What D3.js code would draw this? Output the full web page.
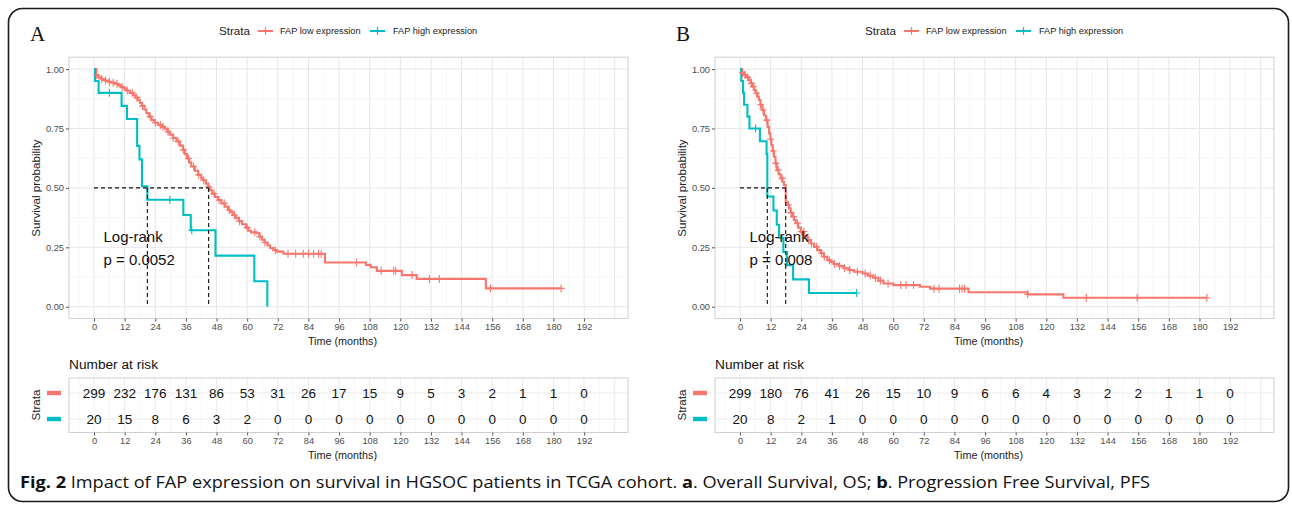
<!DOCTYPE html>
<html><head><meta charset="utf-8">
<script src="https://cdn.jsdelivr.net/npm/d3@7"></script>
<style>
body{margin:0;background:#fff;}
svg{display:block;font-family:"Liberation Sans",Arial,Helvetica,sans-serif;}
</style></head>
<body><svg id="c" width="1292" height="506"></svg>
<script>
// ---------------- DATA ----------------
const timeBreaks = [0,12,24,36,48,60,72,84,96,108,120,132,144,156,168,180,192];
const yBreaks = [0,0.25,0.5,0.75,1];
const yLabels = ["0.00","0.25","0.50","0.75","1.00"];
const strataLabels = ["FAP low expression","FAP high expression"];
const strataColors = ["#F8766D","#00BFC4"];
const panelLetters = ["A","B"];

// Panel A (OS): [time, survival after drop]
const osLowSteps = [[0.9,0.975],[1.7,0.965],[2.9,0.958],[4.0,0.952],[5.5,0.947],[6.8,0.943],[8.1,0.938],[9.5,0.932],[10.7,0.924],[11.8,0.917],[12.7,0.910],[14.0,0.900],[15.3,0.890],[16.3,0.880],[17.2,0.869],[18.0,0.857],[18.8,0.845],[19.7,0.830],[20.5,0.815],[21.5,0.800],[22.5,0.785],[23.8,0.774],[25.1,0.765],[26.5,0.757],[27.7,0.749],[28.8,0.737],[29.7,0.724],[31.0,0.710],[32.3,0.695],[33.6,0.678],[34.9,0.660],[35.6,0.642],[36.4,0.624],[37.3,0.607],[38.1,0.590],[39.5,0.572],[40.8,0.555],[42.0,0.540],[42.7,0.532],[43.8,0.518],[44.7,0.505],[45.5,0.490],[46.3,0.476],[47.4,0.462],[48.6,0.449],[49.9,0.435],[51.2,0.421],[52.5,0.407],[53.3,0.399],[54.3,0.386],[55.5,0.374],[56.8,0.360],[58.0,0.347],[59.5,0.333],[60.5,0.320],[61.5,0.313],[63.8,0.309],[64.8,0.295],[65.8,0.282],[66.8,0.270],[68.0,0.258],[69.0,0.247],[70.3,0.238],[71.6,0.232],[74.2,0.223],[90.5,0.186],[106.5,0.176],[108.4,0.166],[110.8,0.151],[120.6,0.133],[126.4,0.117],[153.5,0.077]];
const osLowEnd = 183;
const osLowCensor = [1,3,4.5,6,7.5,9,11,13,15,16.8,19,22,24,26,27,29,31,33,35,37,39,41,43,45,47,49,51,53,55,57,60,63,65,67,71,76,79,82,84,86,88,89,102.8,112.5,117.4,118.2,124.6,131.4,135.3,155.3,183];
const osHighSteps = [[0.4,0.95],[1.8,0.90],[10.8,0.845],[12.9,0.790],[16.9,0.677],[17.8,0.620],[18.8,0.507],[20.9,0.450],[35.0,0.386],[37.9,0.322],[47.6,0.215],[62.8,0.107],[67.9,0.0]];
const osHighEnd = 67.9;
const osHighCensor = [6.0,29.7,38.3];

// Panel B (PFS)
const pfsLowSteps = [[0.8,0.985],[1.6,0.975],[2.5,0.965],[3.5,0.954],[4.2,0.940],[4.8,0.926],[5.5,0.912],[6.1,0.898],[6.8,0.884],[7.4,0.870],[8.0,0.850],[8.7,0.828],[9.4,0.806],[10.1,0.785],[10.8,0.757],[11.4,0.729],[11.9,0.705],[12.3,0.680],[12.8,0.655],[13.3,0.631],[13.9,0.603],[14.4,0.575],[15.1,0.558],[15.9,0.540],[16.6,0.526],[17.2,0.512],[17.9,0.442],[18.5,0.428],[19.2,0.414],[19.8,0.396],[20.5,0.379],[21.1,0.365],[21.8,0.351],[22.8,0.333],[23.8,0.316],[25.1,0.298],[26.4,0.281],[27.7,0.266],[29.0,0.252],[30.3,0.238],[31.6,0.225],[32.9,0.210],[34.2,0.196],[35.5,0.188],[36.8,0.180],[38.8,0.171],[40.8,0.162],[42.8,0.154],[44.7,0.147],[48.0,0.140],[50.1,0.131],[52.2,0.122],[54.2,0.110],[56.2,0.098],[60.1,0.091],[70.5,0.084],[74.5,0.076],[89.5,0.061],[112.7,0.052],[126.7,0.038]];
const pfsLowEnd = 182.9;
const pfsLowCensor = [1,2,3,4.5,5.2,6.5,8,9,10.5,12,13,14,15,16.5,19,20,21,22.5,24,25,27,28,30,32,33,35,37,39,41,43,46,49,51,53,55,58,63,65,68,76,78,86,87,88,112.7,135.7,155.6,182.9];
const pfsHighSteps = [[0.5,0.95],[1.2,0.90],[1.6,0.85],[2.9,0.80],[3.7,0.75],[7.8,0.696],[10.4,0.643],[10.7,0.464],[13.1,0.405],[14.4,0.345],[15.3,0.290],[17.0,0.230],[18.4,0.175],[20.8,0.115],[27.0,0.058]];
const pfsHighEnd = 45.7;
const pfsHighCensor = [6.1,45.7];

const osMedians = [44.9,20.9];
const pfsMedians = [17.9,10.7];
const osPText = ["Log-rank","p = 0.0052"];
const pfsPText = ["Log-rank","p = 0.008"];

const osRiskLow  = [299,232,176,131,86,53,31,26,17,15,9,5,3,2,1,1,0];
const osRiskHigh = [20,15,8,6,3,2,0,0,0,0,0,0,0,0,0,0,0];
const pfsRiskLow  = [299,180,76,41,26,15,10,9,6,6,4,3,2,2,1,1,0];
const pfsRiskHigh = [20,8,2,1,0,0,0,0,0,0,0,0,0,0,0,0,0];

const captionBold = "Fig. 2";
const captionParts = [" Impact of FAP expression on survival in HGSOC patients in TCGA cohort. ", "a", ". Overall Survival, OS; ", "b", ". Progression Free Survival, PFS"];

// ---------------- DRAW ----------------
const svg = d3.select("#c");

// outer frame
svg.append("rect").attr("x",8.5).attr("y",8.5).attr("width",1280).attr("height",493)
  .attr("rx",14).attr("fill","none").attr("stroke","#1a1a1a").attr("stroke-width",1.6);

function survAt(steps, t){
  let s = 1;
  for (const [tt, v] of steps){ if (tt <= t) s = v; else break; }
  return s;
}

function drawPanel(off, cfg){
  const g = svg.append("g");
  const L = 69 + off, R = 628 + off;
  const x = d3.scaleLinear().domain([-9.8, 209.2]).range([L, R]);
  const y = d3.scaleLinear().domain([-0.05, 1.05]).range([318.6, 57.2]);
  const T = 57.2, B = 318.6;

  // letter
  g.append("text").attr("x", 30 + off).attr("y", 41).attr("font-family","'Liberation Serif','DejaVu Serif',serif")
    .attr("font-size", 21).attr("fill","#111").text(cfg.letter);

  // legend
  const lg = g.append("g");
  lg.append("text").attr("x", 219 + off).attr("y", 35.3).attr("font-size", 11.6).attr("fill","#222").text("Strata");
  const keyX = [258 + off, 370 + off], txtX = [280 + off, 393 + off];
  strataLabels.forEach((lab, i) => {
    lg.append("line").attr("x1", keyX[i]).attr("x2", keyX[i] + 15).attr("y1", 31).attr("y2", 31)
      .attr("stroke", strataColors[i]).attr("stroke-width", 2);
    lg.append("line").attr("x1", keyX[i] + 7.5).attr("x2", keyX[i] + 7.5).attr("y1", 27.2).attr("y2", 34.8)
      .attr("stroke", strataColors[i]).attr("stroke-width", 1.2);
    lg.append("text").attr("x", txtX[i]).attr("y", 34.4).attr("font-size", 9.2).attr("fill","#222").text(lab);
  });

  // panel background grid
  const minorX = d3.range(-6, 205, 12);
  g.append("g").selectAll("line").data(minorX.filter(v => x(v) > L && x(v) < R)).join("line")
    .attr("x1", d => x(d)).attr("x2", d => x(d)).attr("y1", T).attr("y2", B)
    .attr("stroke", "#f0f0f0").attr("stroke-width", 0.6);
  g.append("g").selectAll("line").data(d3.range(0.125, 1, 0.25)).join("line")
    .attr("x1", L).attr("x2", R).attr("y1", d => y(d)).attr("y2", d => y(d))
    .attr("stroke", "#f0f0f0").attr("stroke-width", 0.6);
  g.append("g").selectAll("line").data(timeBreaks.concat([204])).join("line")
    .attr("x1", d => x(d)).attr("x2", d => x(d)).attr("y1", T).attr("y2", B)
    .attr("stroke", "#e6e6e6").attr("stroke-width", 1);
  g.append("g").selectAll("line").data(yBreaks).join("line")
    .attr("x1", L).attr("x2", R).attr("y1", d => y(d)).attr("y2", d => y(d))
    .attr("stroke", "#e6e6e6").attr("stroke-width", 1);
  g.append("rect").attr("x", L).attr("y", T).attr("width", R - L).attr("height", B - T)
    .attr("fill", "none").attr("stroke", "#cfcfcf").attr("stroke-width", 1);

  // axes
  const xa = g.append("g").attr("transform", `translate(0,${B})`)
    .call(d3.axisBottom(x).tickValues(timeBreaks).tickSize(3).tickPadding(2));
  const ya = g.append("g").attr("transform", `translate(${L},0)`)
    .call(d3.axisLeft(y).tickValues(yBreaks).tickFormat((d,i) => yLabels[i]).tickSize(3).tickPadding(2));
  [xa, ya].forEach(a => {
    a.select(".domain").remove();
    a.selectAll(".tick line").attr("stroke", "#555");
    a.selectAll(".tick text").attr("font-size", 9.3).attr("fill", "#4d4d4d").attr("font-family", null);
  });
  g.append("text").attr("x", (L + R) / 2 - 6).attr("y", 345).attr("text-anchor", "middle")
    .attr("font-size", 10.8).attr("fill", "#222").text("Time (months)");
  g.append("text").attr("transform", `translate(${39.5 + off},188) rotate(-90)`).attr("text-anchor", "middle")
    .attr("font-size", 11.6).attr("fill", "#222").text("Survival probability");

  // curves
  const line = d3.line().x(d => x(d[0])).y(d => y(d[1])).curve(d3.curveStepAfter);
  cfg.series.forEach((s, i) => {
    const pts = [[0, 1]].concat(s.steps);
    const last = pts[pts.length - 1];
    if (s.end > last[0]) pts.push([s.end, last[1]]);
    g.append("path").attr("d", line(pts)).attr("fill", "none")
      .attr("stroke", strataColors[i]).attr("stroke-width", 2.1);
  });
  cfg.series.forEach((s, i) => {
    const cg = g.append("g").attr("stroke", strataColors[i]).attr("stroke-width", 1.1);
    s.censor.forEach(t => {
      const cx = x(t), cy = y(survAt(s.steps, t));
      cg.append("path").attr("d", `M${cx - 3.5},${cy}H${cx + 3.5}M${cx},${cy - 4}V${cy + 4}`);
    });
  });

  // median lines
  const mMax = d3.max(cfg.medians);
  const dg = g.append("g").attr("stroke", "#111").attr("stroke-width", 1.1).attr("stroke-dasharray", "4,3").attr("fill", "none");
  dg.append("line").attr("x1", x(0)).attr("x2", x(mMax)).attr("y1", y(0.5)).attr("y2", y(0.5));
  cfg.medians.forEach(m => dg.append("line").attr("x1", x(m)).attr("x2", x(m)).attr("y1", y(0.5)).attr("y2", y(0)));

  // p text
  g.append("text").attr("x", x(3.7)).attr("y", 242).attr("font-size", 15).attr("fill", "#111").text(cfg.pText[0]);
  g.append("text").attr("x", x(3.7)).attr("y", 265).attr("font-size", 15).attr("fill", "#111").text(cfg.pText[1]);

  // risk table
  const rT = 378, rB = 432.5;
  const ry = d3.scalePoint().domain([0, 1]).range([393, 419]);
  g.append("text").attr("x", L).attr("y", 369).attr("font-size", 13.7).attr("fill", "#111").text("Number at risk");
  g.append("g").selectAll("line").data(minorX.filter(v => x(v) > L && x(v) < R)).join("line")
    .attr("x1", d => x(d)).attr("x2", d => x(d)).attr("y1", rT).attr("y2", rB)
    .attr("stroke", "#f2f2f2").attr("stroke-width", 0.6);
  g.append("g").selectAll("line").data(timeBreaks.concat([204])).join("line")
    .attr("x1", d => x(d)).attr("x2", d => x(d)).attr("y1", rT).attr("y2", rB)
    .attr("stroke", "#ebebeb").attr("stroke-width", 1);
  g.append("g").selectAll("line").data([0, 1]).join("line")
    .attr("x1", L).attr("x2", R).attr("y1", d => ry(d)).attr("y2", d => ry(d))
    .attr("stroke", "#ebebeb").attr("stroke-width", 1);
  g.append("rect").attr("x", L).attr("y", rT).attr("width", R - L).attr("height", rB - rT)
    .attr("fill", "none").attr("stroke", "#cfcfcf").attr("stroke-width", 1);
  cfg.risk.forEach((row, i) => {
    g.append("g").selectAll("text").data(row).join("text")
      .attr("x", (d, j) => x(timeBreaks[j])).attr("y", ry(i) + 5).attr("text-anchor", "middle")
      .attr("font-size", 13.5).attr("fill", "#111").text(d => d);
    g.append("rect").attr("x", 47 + off).attr("y", ry(i) - 2.2).attr("width", 14).attr("height", 4.4)
      .attr("fill", strataColors[i]);
  });
  g.append("text").attr("transform", `translate(${40 + off},405) rotate(-90)`).attr("text-anchor", "middle")
    .attr("font-size", 11.6).attr("fill", "#222").text("Strata");
  const xr = g.append("g").attr("transform", `translate(0,${rB})`)
    .call(d3.axisBottom(x).tickValues(timeBreaks).tickSize(3).tickPadding(2));
  xr.select(".domain").remove();
  xr.selectAll(".tick line").attr("stroke", "#555");
  xr.selectAll(".tick text").attr("font-size", 9.3).attr("fill", "#4d4d4d").attr("font-family", null);
  g.append("text").attr("x", (L + R) / 2 - 6).attr("y", 459).attr("text-anchor", "middle")
    .attr("font-size", 10.8).attr("fill", "#222").text("Time (months)");
}

drawPanel(0, {
  letter: panelLetters[0],
  series: [
    {steps: osLowSteps, end: osLowEnd, censor: osLowCensor},
    {steps: osHighSteps, end: osHighEnd, censor: osHighCensor}
  ],
  medians: osMedians, pText: osPText, risk: [osRiskLow, osRiskHigh]
});
drawPanel(646, {
  letter: panelLetters[1],
  series: [
    {steps: pfsLowSteps, end: pfsLowEnd, censor: pfsLowCensor},
    {steps: pfsHighSteps, end: pfsHighEnd, censor: pfsHighCensor}
  ],
  medians: pfsMedians, pText: pfsPText, risk: [pfsRiskLow, pfsRiskHigh]
});

// caption
const cap = svg.append("text").attr("x", 20).attr("y", 488).attr("font-family", "'Open Sans','Noto Sans',sans-serif")
  .attr("font-size", 16).attr("fill", "#111");
cap.append("tspan").attr("font-weight", "bold").text(captionBold);
captionParts.forEach((p, i) => cap.append("tspan").attr("font-weight", (i === 1 || i === 3) ? "bold" : "normal").text(p));
const w = cap.node().getComputedTextLength();
cap.attr("textLength", 1130).attr("lengthAdjust", "spacingAndGlyphs");
</script></body></html>
